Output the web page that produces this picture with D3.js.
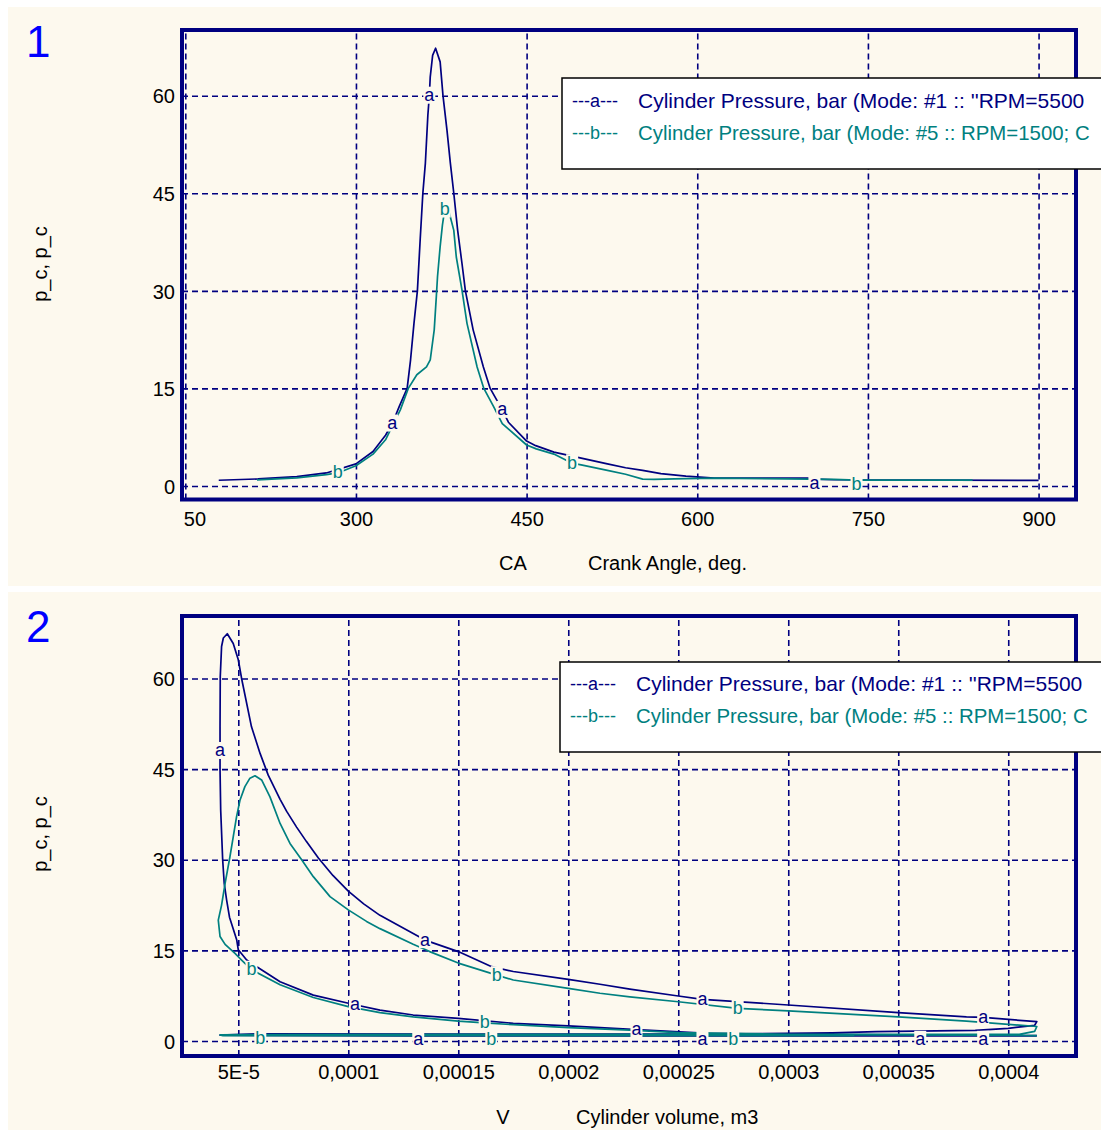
<!DOCTYPE html>
<html>
<head>
<meta charset="utf-8">
<script src="https://cdn.jsdelivr.net/npm/d3@7"></script>
<style>
  body { margin: 0; background: #ffffff; }
  text { font-family: "Liberation Sans", Arial, sans-serif; }
</style>
</head>
<body>
<div id="chart"></div>
<script>
// Cylinder pressure traces
// ---------------------------------------------------

// Chart 1: pressure vs crank angle
const caA = [179.4, 214, 248, 274, 300, 315, 326, 332, 338, 345, 348, 351, 354, 356.5, 358.8, 361, 363.2, 364.5, 365.3, 367.4, 370, 374, 376.5, 380, 383, 386, 389.4, 393.2, 396.2, 403, 412, 418, 428.6, 434, 450, 458, 474, 490, 505, 521, 537, 552, 568, 590, 615, 697, 703, 720, 900];
const pA  = [0.88, 1.08, 1.43, 2.0, 3.4, 5.3, 7.8, 9.6, 12.2, 15, 19.4, 25, 30, 38, 45, 49.6, 57, 60, 62.9, 66.2, 67.3, 65.2, 60, 54.7, 49.6, 45, 39.3, 34.2, 30, 24, 18.3, 15, 11.7, 9.8, 6.9, 6.2, 5.2, 4.6, 4.0, 3.4, 2.8, 2.4, 1.9, 1.5, 1.2, 1.2, 1.05, 0.96, 0.86];

const caB = [213, 248, 274, 284, 300, 315, 326, 339, 346, 353.5, 362, 365.3, 368.8, 370.6, 371.7, 374, 376, 378, 382, 386, 388.2, 393.2, 397.6, 406.5, 412.4, 421, 428.6, 450, 458.5, 474, 490, 499, 521, 537, 552, 562, 580, 615, 720, 740, 842];
const pB  = [0.95, 1.25, 1.75, 2.0, 3.1, 4.9, 7.1, 11.7, 15, 17.1, 18.3, 19.4, 24, 29, 32.2, 36.8, 40.1, 42.5, 42, 39.3, 35.2, 30.1, 25, 18.3, 15, 12.2, 9.6, 6.3, 5.7, 4.9, 3.5, 3.2, 2.4, 1.8, 1.06, 1.0, 1.1, 1.2, 1.0, 0.9, 0.9];

// where the "a" / "b" labels sit on each curve (crank angle)
const caMarksA = [332, 364.5, 428.6, 703];
const caMarksB = [284, 378, 490, 740];

const caTicks = [150, 300, 450, 600, 750, 900];
const caTickLabels = ["50", "300", "450", "600", "750", "900"];

// Chart 2: pressure vs cylinder volume (loops in crank-angle order)
const volA = [4.13e-4, 3.9e-4, 3.5e-4, 3.0e-4, 2.64e-4, 2.57e-4, 2.31e-4, 2.0e-4, 1.75e-4, 1.5e-4, 1.295e-4, 1.144e-4, 1.03e-4, 8.41e-5, 6.9e-5, 5.84e-5, 5.38e-5, 5.0e-5, 4.93e-5, 4.6e-5, 4.47e-5, 4.36e-5, 4.29e-5, 4.2e-5, 4.17e-5, 4.17e-5, 4.17e-5, 4.18e-5, 4.24e-5, 4.32e-5, 4.5e-5, 4.77e-5, 5.0e-5, 5.15e-5, 5.6e-5, 5.99e-5, 6.36e-5, 6.9e-5, 7.2e-5, 7.65e-5, 8.1e-5, 8.64e-5, 9.3e-5, 1.0e-4, 1.07e-4, 1.144e-4, 1.295e-4, 1.349e-4, 1.5e-4, 1.652e-4, 1.75e-4, 2.0e-4, 2.144e-4, 2.28e-4, 2.5e-4, 2.61e-4, 3.0e-4, 3.5e-4, 3.81e-4, 3.886e-4, 4.13e-4, 4.12e-4, 4.0e-4, 3.85e-4, 3.4e-4, 3.2e-4, 2.76e-4, 1.5e-4, 6.0e-5, 4.17e-5, 1.318e-4, 2.61e-4, 3.6e-4, 3.886e-4, 4.13e-4];
const pvA  = [0.88, 0.92, 1.0, 1.12, 1.25, 1.4, 1.9, 2.5, 2.93, 3.76, 4.3, 5.1, 6.0, 7.6, 9.8, 12.3, 13.4, 15.1, 16.7, 20.5, 23.3, 26.1, 30, 38.2, 44.9, 48, 52, 60.3, 65.3, 66.7, 67.4, 65.8, 63.1, 60, 52, 47.6, 44.0, 40.0, 38.0, 35.4, 33.0, 30.3, 27.4, 24.8, 22.7, 20.8, 17.8, 16.7, 14.8, 12.3, 11.5, 10.2, 9.4, 8.6, 7.45, 6.9, 5.96, 4.69, 4.0, 3.9, 3.2, 2.6, 2.1, 1.75, 1.55, 1.35, 1.2, 1.15, 1.2, 0.96, 0.86, 0.86, 0.86, 0.86, 0.86];

const volB = [4.13e-4, 3.5e-4, 3.0e-4, 2.5e-4, 2.28e-4, 2.0e-4, 1.75e-4, 1.62e-4, 1.5e-4, 1.295e-4, 1.144e-4, 1.0e-4, 8.41e-5, 6.9e-5, 5.6e-5, 5.15e-5, 4.85e-5, 4.4e-5, 4.17e-5, 4.09e-5, 4.24e-5, 4.4e-5, 4.62e-5, 4.77e-5, 4.92e-5, 5.08e-5, 5.3e-5, 5.53e-5, 5.76e-5, 6.06e-5, 6.44e-5, 6.9e-5, 7.35e-5, 7.88e-5, 8.41e-5, 9.17e-5, 1.0e-4, 1.083e-4, 1.144e-4, 1.295e-4, 1.37e-4, 1.5e-4, 1.675e-4, 1.75e-4, 2.0e-4, 2.144e-4, 2.28e-4, 2.5e-4, 2.77e-4, 3.0e-4, 3.5e-4, 3.81e-4, 4.13e-4, 4.12e-4, 4.05e-4, 3.5e-4, 2.5e-4, 1.5e-4, 6.0e-5, 4.17e-5, 4.3e-5, 1.65e-4, 2.75e-4, 3.3e-4];
const pvB  = [0.9, 1.0, 1.12, 1.4, 1.8, 2.2, 2.7, 3.0, 3.3, 4.0, 4.7, 5.7, 7.2, 9.3, 11.8, 13.4, 14.5, 16.0, 17.3, 20, 22.5, 26.1, 30.5, 33.8, 37.1, 39.9, 42.1, 43.5, 43.9, 43.2, 40.4, 36, 32.7, 30, 27.2, 23.9, 21.7, 19.8, 18.6, 16.0, 14.8, 12.9, 10.9, 10.1, 8.7, 7.9, 7.3, 6.5, 5.4, 5.0, 4.0, 3.3, 2.4, 1.6, 1.1, 1.1, 1.15, 1.1, 1.05, 1.0, 0.9, 0.9, 0.9, 0.9];

// label spots on the loops as [volume, pressure]; snapped to nearest loop point
const pvMarksA = [[4.17e-5, 48], [1.349e-4, 16.7], [1.03e-4, 6.0], [2.31e-4, 1.9], [1.318e-4, 0.86], [2.61e-4, 6.9], [2.61e-4, 0.86], [3.6e-4, 0.86], [3.886e-4, 3.9], [3.886e-4, 0.86]];
const pvMarksB = [[5.6e-5, 11.8], [1.675e-4, 10.9], [6.0e-5, 1.05], [1.62e-4, 3.0], [1.65e-4, 0.9], [2.77e-4, 5.4], [2.75e-4, 0.9]];

const volTicks = [5e-5, 1e-4, 1.5e-4, 2e-4, 2.5e-4, 3e-4, 3.5e-4, 4e-4];
const volTickLabels = ["5E-5", "0,0001", "0,00015", "0,0002", "0,00025", "0,0003", "0,00035", "0,0004"];

const pTicks = [0, 15, 30, 45, 60];

const legendA = ["---a---", "Cylinder Pressure, bar (Mode: #1 :: ''RPM=5500"];
const legendB = ["---b---", "Cylinder Pressure, bar (Mode: #5 :: RPM=1500; C"];

// ---------------------------------------------------

const bg = "#fdf9ee", navy = "#000080", teal = "#008080";

const svg = d3.select("#chart").append("svg")
  .attr("width", 1107)
  .attr("height", 1133);

const panels = [
  {
    num: "1", box: [8, 7, 1093, 579],
    frame: { l: 182, r: 1076, t: 30, b: 499.5 },
    xDomain: [147.1, 932.9], yDomain: [-2.08, 70.1],
    xTicks: caTicks, xLabels: caTickLabels, xPad: 12,
    series: [
      { pts: caA.map((c, i) => [c, pA[i]]), color: navy, letter: "a", marks: caMarksA.map(c => [c, null]) },
      { pts: caB.map((c, i) => [c, pB[i]]), color: teal, letter: "b", marks: caMarksB.map(c => [c, null]) }
    ],
    legendBox: [562, 78, 91], legendY: [101, 133],
    xTitle: ["CA", 513, "Crank Angle, deg.", 588, 563],
    yTitleY: 264
  },
  {
    num: "2", box: [8, 592, 1093, 538],
    frame: { l: 182, r: 1076, t: 616, b: 1056 },
    xDomain: [2.441e-5, 4.308e-4], yDomain: [-2.48, 70.34],
    xTicks: volTicks, xLabels: volTickLabels, xPad: 9,
    series: [
      { pts: volA.map((v, i) => [v, pvA[i]]), color: navy, letter: "a", marks: pvMarksA },
      { pts: volB.map((v, i) => [v, pvB[i]]), color: teal, letter: "b", marks: pvMarksB }
    ],
    legendBox: [560, 662, 90], legendY: [684, 716],
    xTitle: ["V", 503, "Cylinder volume, m3", 576, 1117],
    yTitleY: 834
  }
];

panels.forEach((P, pi) => {
  const [bx, by, bw, bh] = P.box;
  const f = P.frame;

  svg.append("clipPath").attr("id", "clip" + pi)
    .append("rect").attr("x", bx).attr("y", by).attr("width", bw).attr("height", bh);

  const g = svg.append("g").attr("clip-path", `url(#clip${pi})`);

  // panel background
  g.append("rect")
    .attr("x", bx).attr("y", by).attr("width", bw).attr("height", bh)
    .attr("fill", bg);

  // panel number
  g.append("text")
    .attr("x", 26).attr("y", by + 50)
    .attr("fill", "#0000ff")
    .style("font-size", "44px")
    .text(P.num);

  const x = d3.scaleLinear().domain(P.xDomain).range([f.l, f.r]);
  const y = d3.scaleLinear().domain(P.yDomain).range([f.b, f.t]);

  // grid + tick labels
  const yAxis = g.append("g")
    .attr("transform", `translate(${f.l},0)`)
    .call(d3.axisLeft(y).tickValues(pTicks).tickSizeInner(-(f.r - f.l)).tickSizeOuter(0).tickPadding(7));

  const xAxis = g.append("g")
    .attr("transform", `translate(0,${f.b})`)
    .call(d3.axisBottom(x).tickValues(P.xTicks)
      .tickFormat((d, i) => P.xLabels[i])
      .tickSizeInner(-(f.b - f.t)).tickSizeOuter(0).tickPadding(P.xPad));

  [yAxis, xAxis].forEach(ax => {
    ax.select(".domain").remove();
    ax.selectAll("line")
      .attr("stroke", navy)
      .attr("stroke-width", 1.6)
      .attr("stroke-dasharray", "6,4");
    ax.selectAll("text")
      .attr("fill", "#000")
      .style("font-size", "20px")
      .style("font-family", '"Liberation Sans", Arial, sans-serif');
  });
  yAxis.selectAll("text").attr("dy", "0.36em");
  if (pi === 0) {
    // first label is cut at the frame in the original
    xAxis.selectAll(".tick text").filter((d, i) => i === 0)
      .attr("text-anchor", "start").attr("x", -2);
  }

  // frame
  g.append("rect")
    .attr("x", f.l).attr("y", f.t)
    .attr("width", f.r - f.l).attr("height", f.b - f.t)
    .attr("fill", "none")
    .attr("stroke", navy)
    .attr("stroke-width", 4);

  // curves
  const line = d3.line().x(d => x(d[0])).y(d => y(d[1]));

  P.series.forEach(s => {
    g.append("path")
      .datum(s.pts)
      .attr("fill", "none")
      .attr("stroke", s.color)
      .attr("stroke-width", 1.7)
      .attr("stroke-linejoin", "round")
      .attr("d", line);
  });

  // letter markers on the curves
  P.series.forEach(s => {
    s.marks.forEach(m => {
      let best = s.pts[0], bd = Infinity;
      s.pts.forEach(p => {
        const d = m[1] === null
          ? Math.abs(x(p[0]) - x(m[0]))
          : Math.hypot(x(p[0]) - x(m[0]), y(p[1]) - y(m[1]));
        if (d < bd) { bd = d; best = p; }
      });
      const cx = x(best[0]);
      // letters on the near-atmospheric lines sit just under the line
      const cy = y(best[1]) + (best[1] < 1.2 ? 4 : 0);
      g.append("rect")
        .attr("x", cx - 6).attr("y", cy - 9)
        .attr("width", 12).attr("height", 17)
        .attr("fill", bg);
      g.append("text")
        .attr("x", cx).attr("y", cy)
        .attr("dy", "0.3em")
        .attr("text-anchor", "middle")
        .attr("fill", s.color)
        .style("font-size", "18px")
        .text(s.letter);
    });
  });

  // legend
  const [lx, ly, lh] = P.legendBox;
  g.append("rect")
    .attr("x", lx).attr("y", ly)
    .attr("width", 700).attr("height", lh)
    .attr("fill", "#ffffff")
    .attr("stroke", "#000")
    .attr("stroke-width", 1.5);

  [legendA, legendB].forEach((row, i) => {
    const c = i === 0 ? navy : teal;
    g.append("text")
      .attr("x", lx + 10).attr("y", P.legendY[i]).attr("dy", "0.35em")
      .attr("fill", c).style("font-size", "18px")
      .text(row[0]);
    g.append("text")
      .attr("x", lx + 76).attr("y", P.legendY[i]).attr("dy", "0.35em")
      .attr("fill", c).style("font-size", i === 0 ? "21px" : "20.4px")
      .text(row[1]);
  });

  // axis titles
  const [t1, t1x, t2, t2x, ty] = P.xTitle;
  g.append("text").attr("x", t1x).attr("y", ty).attr("dy", "0.35em")
    .attr("text-anchor", "middle").style("font-size", "20px").text(t1);
  g.append("text").attr("x", t2x).attr("y", ty).attr("dy", "0.35em")
    .style("font-size", "20px").text(t2);

  g.append("text")
    .attr("transform", `translate(40,${P.yTitleY}) rotate(-90)`)
    .attr("dy", "0.35em")
    .attr("text-anchor", "middle")
    .style("font-size", "20px")
    .text("p_c,  p_c");
});
</script>
</body>
</html>
